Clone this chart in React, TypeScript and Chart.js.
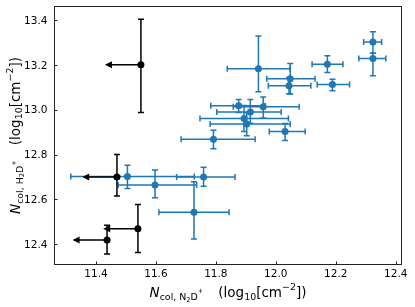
import React, { useEffect, useRef } from 'react';
import { Chart, registerables } from 'chart.js';

Chart.register(...registerables);

// ---- data ----
const blueX = [11.942, 12.048, 12.044, 12.172, 12.189, 12.324, 12.324, 11.876, 11.958, 11.915, 11.894, 11.903, 12.031, 11.792, 11.759, 11.505, 11.597, 11.727];
const blueY = [13.182, 13.138, 13.107, 13.203, 13.112, 13.302, 13.228, 13.018, 13.013, 12.990, 12.961, 12.936, 12.903, 12.868, 12.700, 12.702, 12.664, 12.543];
const blueXErrLow = [0.104, 0.078, 0.069, 0.051, 0.051, 0.031, 0.047, 0.093, 0.100, 0.112, 0.147, 0.122, 0.053, 0.108, 0.090, 0.189, 0.123, 0.117];
const blueXErrHigh = [0.106, 0.083, 0.073, 0.052, 0.057, 0.029, 0.043, 0.088, 0.120, 0.103, 0.148, 0.145, 0.067, 0.139, 0.105, 0.223, 0.139, 0.117];
const blueYErrLow = [0.102, 0.068, 0.036, 0.037, 0.028, 0.050, 0.077, 0.030, 0.050, 0.050, 0.058, 0.052, 0.040, 0.042, 0.041, 0.053, 0.056, 0.119];
const blueYErrHigh = [0.146, 0.068, 0.036, 0.037, 0.024, 0.045, 0.024, 0.027, 0.043, 0.055, 0.058, 0.050, 0.036, 0.040, 0.043, 0.051, 0.067, 0.136];

const blackX = [11.550, 11.470, 11.540, 11.437];
const blackY = [13.200, 12.700, 12.469, 12.419];
const blackYErrLow = [0.212, 0.085, 0.105, 0.062];
const blackYErrHigh = [0.203, 0.100, 0.109, 0.066];
const blackXLimitLen = [0.120, 0.116, 0.116, 0.115];

const xTicks = [11.4, 11.6, 11.8, 12.0, 12.2, 12.4];
const yTicks = [12.4, 12.6, 12.8, 13.0, 13.2, 13.4];
const xMin = 11.26, xMax = 12.421;
const yMin = 12.308, yMax = 13.462;

const BLUE = '#1f77b4';
const FONT = 'DejaVu Sans';

type Part = { t?: string; size?: number; italic?: boolean; dy?: number; gap?: number };

function drawRich(ctx: CanvasRenderingContext2D, parts: Part[], cx: number, cy: number, rot: number) {
  ctx.save();
  ctx.translate(cx, cy);
  ctx.rotate(rot);
  ctx.fillStyle = '#000';
  ctx.textAlign = 'left';
  ctx.textBaseline = 'alphabetic';
  const fontOf = (p: Part) => `${p.italic ? 'italic ' : ''}${p.size}px "${FONT}"`;
  let total = 0;
  for (const p of parts) {
    if (p.gap !== undefined) { total += p.gap; continue; }
    ctx.font = fontOf(p);
    total += ctx.measureText(p.t || '').width;
  }
  let x = -total / 2;
  for (const p of parts) {
    if (p.gap !== undefined) { x += p.gap; continue; }
    ctx.font = fontOf(p);
    ctx.fillText(p.t || '', x, p.dy || 0);
    x += ctx.measureText(p.t || '').width;
  }
  ctx.restore();
}

const M = 13.5, S = 9.45, SS = 6.6;
const unitsParts: Part[] = [
  { t: '(log', size: M },
  { t: '10', size: S, dy: 2.5 },
  { t: '[cm', size: M },
  { t: '\u22122', size: S, dy: -7 },
  { t: '])', size: M },
];
const xTitle: Part[] = [
  { t: 'N', size: M, italic: true },
  { t: 'col, N', size: S, dy: 3 },
  { t: '2', size: SS, dy: 4.5 },
  { t: 'D', size: S, dy: 3 },
  { t: '+', size: SS, dy: -4 },
  { gap: 15 },
  ...unitsParts,
];
const yTitle: Part[] = [
  { t: 'N', size: M, italic: true },
  { t: 'col, H', size: S, dy: 3 },
  { t: '2', size: SS, dy: 4.5 },
  { t: 'D', size: S, dy: 3 },
  { t: '+', size: SS, dy: -4 },
  { gap: 15 },
  ...unitsParts,
];

const decorPlugin = {
  id: 'decor',
  beforeDatasetsDraw(chart: any) {
    const ctx: CanvasRenderingContext2D = chart.ctx;
    const xs = chart.scales.x, ys = chart.scales.y;
    const cap = 3;
    ctx.save();
    ctx.lineWidth = 1.5;
    ctx.strokeStyle = BLUE;
    for (let i = 0; i < blueX.length; i++) {
      const px = xs.getPixelForValue(blueX[i]);
      const py = ys.getPixelForValue(blueY[i]);
      const x0 = xs.getPixelForValue(blueX[i] - blueXErrLow[i]);
      const x1 = xs.getPixelForValue(blueX[i] + blueXErrHigh[i]);
      const y0 = ys.getPixelForValue(blueY[i] - blueYErrLow[i]);
      const y1 = ys.getPixelForValue(blueY[i] + blueYErrHigh[i]);
      ctx.beginPath();
      ctx.moveTo(x0, py); ctx.lineTo(x1, py);
      ctx.moveTo(px, y0); ctx.lineTo(px, y1);
      ctx.moveTo(x0, py - cap); ctx.lineTo(x0, py + cap);
      ctx.moveTo(x1, py - cap); ctx.lineTo(x1, py + cap);
      ctx.moveTo(px - cap, y0); ctx.lineTo(px + cap, y0);
      ctx.moveTo(px - cap, y1); ctx.lineTo(px + cap, y1);
      ctx.stroke();
    }
    ctx.strokeStyle = '#000';
    ctx.fillStyle = '#000';
    for (let i = 0; i < blackX.length; i++) {
      const px = xs.getPixelForValue(blackX[i]);
      const py = ys.getPixelForValue(blackY[i]);
      const tip = xs.getPixelForValue(blackX[i] - blackXLimitLen[i]);
      const y0 = ys.getPixelForValue(blackY[i] - blackYErrLow[i]);
      const y1 = ys.getPixelForValue(blackY[i] + blackYErrHigh[i]);
      ctx.beginPath();
      ctx.moveTo(px, y0); ctx.lineTo(px, y1);
      ctx.moveTo(px - cap, y0); ctx.lineTo(px + cap, y0);
      ctx.moveTo(px - cap, y1); ctx.lineTo(px + cap, y1);
      ctx.moveTo(px, py); ctx.lineTo(tip + 5, py);
      ctx.stroke();
      ctx.beginPath();
      ctx.moveTo(tip, py);
      ctx.lineTo(tip + 7, py - 3.5);
      ctx.lineTo(tip + 7, py + 3.5);
      ctx.closePath();
      ctx.fill();
    }
    ctx.restore();
  },
  afterDraw(chart: any) {
    const ctx: CanvasRenderingContext2D = chart.ctx;
    const a = chart.chartArea;
    const xs = chart.scales.x, ys = chart.scales.y;
    ctx.save();
    ctx.strokeStyle = '#222';
    ctx.lineWidth = 1;
    ctx.strokeRect(Math.round(a.left) + 0.5, Math.round(a.top) + 0.5, Math.round(a.right - a.left) - 1, Math.round(a.bottom - a.top) - 1);
    ctx.beginPath();
    for (const v of xTicks) {
      const x = Math.round(xs.getPixelForValue(v)) + 0.5;
      ctx.moveTo(x, a.bottom); ctx.lineTo(x, a.bottom - 3.5);
    }
    for (const v of yTicks) {
      const y = Math.round(ys.getPixelForValue(v)) + 0.5;
      ctx.moveTo(a.left, y); ctx.lineTo(a.left + 3.5, y);
    }
    ctx.stroke();
    // tick labels
    ctx.fillStyle = '#000';
    ctx.font = `10.5px "${FONT}"`;
    ctx.textBaseline = 'alphabetic';
    ctx.textAlign = 'center';
    for (const v of xTicks) {
      ctx.fillText(v.toFixed(1), xs.getPixelForValue(v), a.bottom + 12);
    }
    ctx.textAlign = 'right';
    for (const v of yTicks) {
      ctx.fillText(v.toFixed(1), a.left - 6.5, ys.getPixelForValue(v) + 3.8);
    }
    ctx.restore();
    drawRich(ctx, xTitle, (a.left + a.right) / 2, 297, 0);
    drawRich(ctx, yTitle, 19.5, (a.top + a.bottom) / 2, -Math.PI / 2);
  },
};

export default function App() {
  const ref = useRef<HTMLCanvasElement | null>(null);
  useEffect(() => {
    document.body.style.margin = '0';
    const canvas = ref.current;
    if (!canvas) return;
    const chart = new Chart(canvas, {
      type: 'scatter',
      data: {
        datasets: [
          {
            label: 'limits',
            data: blackX.map((x, i) => ({ x, y: blackY[i] })),
            backgroundColor: '#000',
            borderWidth: 0,
            pointRadius: 3.5,
            order: 0,
          },
          {
            label: 'detections',
            data: blueX.map((x, i) => ({ x, y: blueY[i] })),
            backgroundColor: BLUE,
            borderWidth: 0,
            pointRadius: 3.5,
            order: 1,
          },
        ],
      },
      options: {
        responsive: false,
        animation: false,
        devicePixelRatio: 1,
        layout: { padding: { top: 6, right: 13, left: 0, bottom: 0 } },
        plugins: { legend: { display: false }, tooltip: { enabled: false }, title: { display: false } },
        scales: {
          x: {
            type: 'linear',
            min: xMin,
            max: xMax,
            grid: { display: false, drawTicks: false },
            border: { display: false },
            afterBuildTicks: (s: any) => { s.ticks = xTicks.map((v) => ({ value: v })); },
            afterFit: (s: any) => { s.height = 42; },
            ticks: { display: false },
          },
          y: {
            type: 'linear',
            min: yMin,
            max: yMax,
            grid: { display: false, drawTicks: false },
            border: { display: false },
            afterBuildTicks: (s: any) => { s.ticks = yTicks.map((v) => ({ value: v })); },
            afterFit: (s: any) => { s.width = 54; },
            ticks: { display: false },
          },
        },
      },
      plugins: [decorPlugin],
    });
    return () => chart.destroy();
  }, []);
  return <canvas ref={ref} width={415} height={307} style={{ display: 'block', width: 415, height: 307 }} />;
}
